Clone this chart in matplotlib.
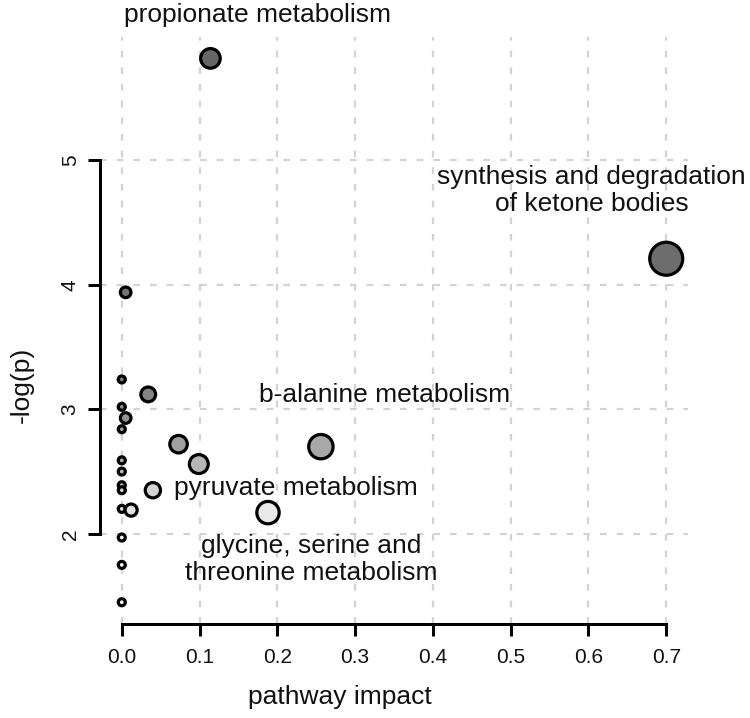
import numpy as np
import matplotlib
matplotlib.use("Agg")
import matplotlib.pyplot as plt

plt.rcParams['font.family'] = ['Liberation Sans', 'DejaVu Sans']

# pathway impact (x) and -log(p) (y)
impact = [0.114, 0.700, 0.005, 0.000, 0.034, 0.000, 0.005, 0.000, 0.073, 0.256, 0.000,
          0.099, 0.000, 0.000, 0.000, 0.040, 0.000, 0.012, 0.188, 0.000, 0.000, 0.000]
logp = [5.82, 4.21, 3.94, 3.24, 3.12, 3.02, 2.93, 2.84, 2.72, 2.70, 2.59,
        2.56, 2.50, 2.39, 2.35, 2.35, 2.20, 2.19, 2.17, 1.97, 1.75, 1.45]

# labelled pathways: text, x, y (data coords of the label centre)
label_text = ["propionate metabolism",
              "synthesis and degradation\nof ketone bodies",
              "b-alanine metabolism",
              "pyruvate metabolism",
              "glycine, serine and\nthreonine metabolism"]
label_x = [0.174, 0.604, 0.338, 0.224, 0.243]
label_y = [6.17, 4.755, 3.117, 2.37, 1.79]

xticks = [0.0, 0.1, 0.2, 0.3, 0.4, 0.5, 0.6, 0.7]
yticks = [2, 3, 4, 5]

x = np.array(impact)
y = np.array(logp)
n = len(y)

# bubble size grows with impact, fill gets darker with significance (rank)
diam_px = 10 + 30 * x ** 0.4
edge_px = 3
sizes = ((diam_px - edge_px) * 0.72) ** 2
rank = np.empty(n)
rank[np.argsort(-y)] = np.arange(n)
fills = [str(0.4 + 0.6 * r / (n - 1)) for r in rank]

fig = plt.figure(figsize=(7.5, 7.18), dpi=100)
ax = fig.add_axes([100 / 750, 1 - 624 / 718, 588 / 750, (624 - 36.6) / 718])
ax.set_xlim(-0.028, 0.728)
ax.set_ylim(1.275, 5.995)

ax.set_xticks(xticks)
ax.set_xticklabels([f"{t:.1f}" for t in xticks])
ax.set_yticks(yticks)
ax.set_yticklabels([str(t) for t in yticks], rotation=90, va='center')

ax.grid(True, color='#d3d3d3', linestyle=(0, (3, 4.5)), linewidth=1.6)
ax.set_axisbelow(True)

for side in ['top', 'right']:
    ax.spines[side].set_visible(False)
ax.spines['bottom'].set_bounds(0, 0.7)
ax.spines['left'].set_bounds(2, 5)
for side in ['bottom', 'left']:
    ax.spines[side].set_linewidth(2.16)
ax.tick_params(axis='both', direction='out', length=8.6, width=2.16,
               labelsize=15, labelcolor='#111111')
ax.tick_params(axis='x', pad=9)
ax.tick_params(axis='y', pad=6)

ax.scatter(x, y, s=sizes, c=fills, edgecolors='black', linewidths=2.3,
           zorder=3, clip_on=False)

for t, lx, ly in zip(label_text, label_x, label_y):
    ax.text(lx, ly, t, fontsize=19, ha='center', va='center', clip_on=False,
            linespacing=1.15, color='#111111')

fig.text(340 / 750, 1 - 697 / 718, "pathway impact", fontsize=19, ha='center',
         va='center', color='#111111')
fig.text(22 / 750, 1 - 385 / 718, "-log(p)", fontsize=19, ha='center', va='center',
         rotation=90, color='#111111')

fig.savefig("out.png", dpi=100, facecolor='white')
